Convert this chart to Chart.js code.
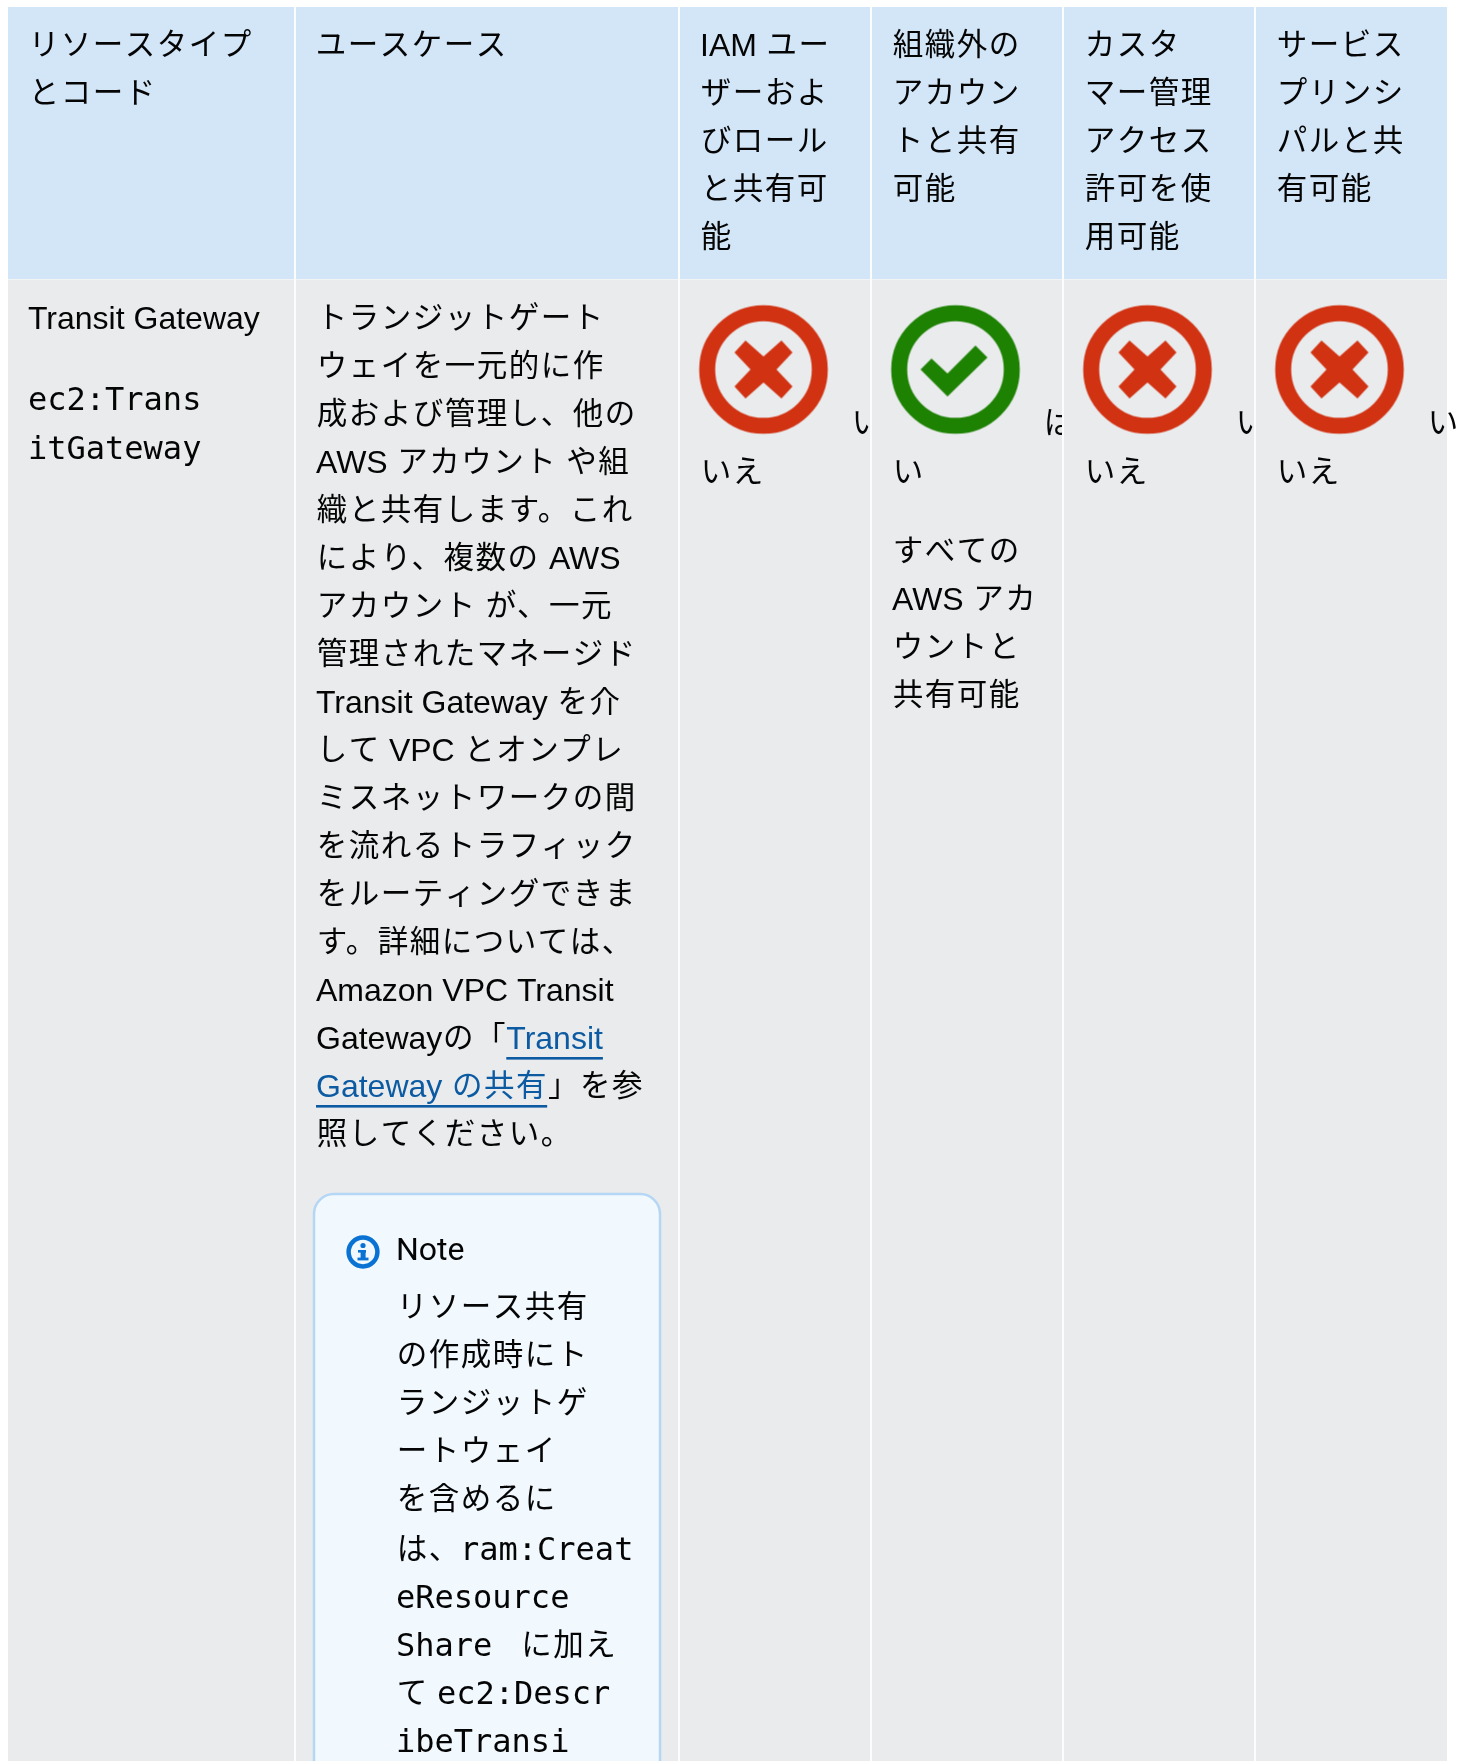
<!DOCTYPE html>
<html lang="ja">
<head>
<meta charset="utf-8">
<title>リソースタイプとコード</title>
<style>html,body{margin:0;padding:0;background:#fff}canvas{display:block}</style>
<script src="https://cdn.jsdelivr.net/npm/chart.js@4"></script>
</head>
<body>
<canvas id="c" width="1466" height="1761"></canvas>
<script>
// ---- content ----
const headers = [
  ["リソースタイプ", "とコード"],
  ["ユースケース"],
  ["IAM ユー", "ザーおよ", "びロール", "と共有可", "能"],
  ["組織外の", "アカウン", "トと共有", "可能"],
  ["カスタ", "マー管理", "アクセス", "許可を使", "用可能"],
  ["サービス", "プリンシ", "パルと共", "有可能"]
];
const resourceName = "Transit Gateway";
const resourceCode = ["ec2:Trans", "itGateway"];
// runs: plain strings are body text; {m:...} is code, {a:...} is a link
const useCase = [
  ["トランジットゲート"], ["ウェイを一元的に作"], ["成および管理し、他の"],
  ["AWS アカウント や組"], ["織と共有します。これ"], ["により、複数の AWS"],
  ["アカウント が、一元"], ["管理されたマネージド"], ["Transit Gateway を介"],
  ["して VPC とオンプレ"], ["ミスネットワークの間"], ["を流れるトラフィック"],
  ["をルーティングできま"], ["す。詳細については、"], ["Amazon VPC Transit"],
  ["Gatewayの「", {a:"Transit"}], [{a:"Gateway の共有"}, "」を参"], ["照してください。"]
];
const noteTitle = "Note";
const noteBody = [
  ["リソース共有"], ["の作成時にト"], ["ランジットゲ"], ["ートウェイ"], ["を含めるに"],
  ["は、", {m:"ram:Creat"}], [{m:"eResource"}], [{m:"Share "}, " に加え"],
  ["て ", {m:"ec2:Descr"}], [{m:"ibeTransi"}]
];
const availability = [false, true, false, false];      // columns 3..6
const noLabel = ["い", "いえ"];
const yesLabel = ["は", "い"];
const extraNote = ["すべての", "AWS アカ", "ウントと", "共有可能"];

// ---- layout ----
const W = 1466, H = 1761;
const colEdges = [8, 295, 679, 871, 1063, 1255, 1447];
const headTop = 7, headBottom = 279, PAD = 20, LH = 48;
const SANS = '32px "Liberation Sans","Noto Sans CJK JP",sans-serif';
const MONO = '32px "DejaVu Sans Mono","Noto Sans CJK JP",monospace';
const NOTE = '32px Roboto,"Noto Sans CJK JP",sans-serif';
const CJK = '30.5px "Noto Sans CJK JP",sans-serif', CJK_TRACK = 1.5, CJK_ADV = 32, CJK_RAISE = 1;
const CJK_RE = /([\u3000-\u30ff\u3400-\u9fff\uff00-\uffef]+)/;
const INK = '#050505', LINK = '#0b5aa2';
const statusCols = availability.map((_, i) => i + 2);

function icon(ok) {
  const c = document.createElement('canvas'); c.width = c.height = 134;
  const g = c.getContext('2d'), col = ok ? '#1d8102' : '#d13212', m = 67;
  g.filter = 'blur(0.5px)';
  g.strokeStyle = col; g.lineWidth = 16;
  g.beginPath(); g.arc(m, m, 56.3, 0, 7); g.stroke();
  g.fillStyle = col;
  const shape = ok
    ? [[-35,0],[-24,-11],[-8,4],[20,-24],[32,-12],[-8,27]]
    : [[-18,-29],[-29,-17],[-13,0],[-29,17],[-18,29],[0,13],[18,29],[29,17],[13,0],[29,-17],[18,-29],[0,-13]];
  g.beginPath();
  shape.forEach(([x, y], i) => i ? g.lineTo(m + x, m + y) : g.moveTo(m + x, m + y));
  g.closePath(); g.fill();
  return c;
}
function infoIcon() {
  const c = document.createElement('canvas'); c.width = c.height = 36;
  const g = c.getContext('2d'), m = 18;
  g.strokeStyle = g.fillStyle = '#0972d3'; g.lineWidth = 4.5;
  g.beginPath(); g.arc(m, m, 14.4, 0, 7); g.stroke();
  g.beginPath(); g.arc(m, m - 6.5, 2.6, 0, 7); g.fill();
  g.fillRect(m - 5, m - 2, 8, 2.6);
  g.fillRect(m - 2.4, m - 2, 5, 9);
  g.fillRect(m - 5.5, m + 5.6, 11, 2.8);
  return c;
}

const tablePlugin = {
  id: 'table',
  beforeDatasetsDraw(chart) {
    const { ctx, scales: { x, y } } = chart;
    const X = v => x.getPixelForValue(v), Y = v => y.getPixelForValue(v);
    const rect = (a, t, b, u, col) => { ctx.fillStyle = col; ctx.fillRect(X(a), Y(t), X(b) - X(a), Y(u) - Y(t)); };
    const runs = (line, left, base) => {
      let pen = X(left);
      line.forEach(r => {
        const isM = typeof r === 'object' && r.m !== undefined;
        const isA = typeof r === 'object' && r.a !== undefined;
        const t = isM ? r.m : isA ? r.a : r;
        const start = pen;
        ctx.fillStyle = isA ? LINK : INK;
        t.split(CJK_RE).forEach((seg, odd) => {
          if (!seg) return;
          if (odd % 2) {
            ctx.font = CJK; ctx.letterSpacing = CJK_TRACK + 'px';
            ctx.fillText(seg, pen + CJK_TRACK / 2, Y(base) - CJK_RAISE);
            ctx.letterSpacing = '0px';
            pen += seg.length * CJK_ADV;
          } else {
            ctx.font = isM ? MONO : SANS;
            ctx.fillText(seg, pen, Y(base));
            pen += ctx.measureText(seg).width;
          }
        });
        if (isA) ctx.fillRect(start, Y(base) + 8, pen - start, 2.6);
      });
    };
    ctx.save();
    ctx.textBaseline = 'alphabetic';
    colEdges.slice(0, -1).forEach((l, i) => {
      const r = colEdges[i + 1], last = i === 5;
      const cellL = i ? l + 1 : l, cellR = last ? r : r - 1;
      rect(cellL, headTop, cellR, headBottom, '#d3e6f8');
      rect(cellL, headBottom + 1, cellR, H, '#e9ebed');
      rect(cellL, headBottom, cellR, headBottom + 1, '#f2f3f4');
      if (!last) rect(r - 1, headTop, r + 1, H, '#fbfcfc');
      headers[i].forEach((t, k) => runs([t], l + PAD + (i < 2 ? 0 : 1), 56 + k * LH));
    });
    // first column
    runs([resourceName], colEdges[0] + PAD, 329);
    resourceCode.forEach((t, k) => runs([{ m: t }], colEdges[0] + PAD, 410 + k * (LH + 1)));
    // use case
    useCase.forEach((line, k) => runs(line, colEdges[1] + PAD + 1, 329 + k * LH));
    // status labels: first glyph wraps beside the icon and is cut by the cell edge
    statusCols.forEach((c, i) => {
      const l = colEdges[c], r = colEdges[c + 1], lab = availability[i] ? yesLabel : noLabel;
      ctx.save();
      if (c < 5) { ctx.beginPath(); ctx.rect(X(l), 0, X(r - 1) - X(l), H); ctx.clip(); }
      runs([lab[0]], l + 172, 433.5);
      ctx.restore();
      runs([lab[1]], l + PAD + 1, 482.5);
    });
    extraNote.forEach((t, k) => runs([t], colEdges[3] + PAD + 1, 562 + k * LH));
    // note box
    ctx.beginPath();
    ctx.roundRect(X(314), Y(1194), X(660) - X(314), Y(1800) - Y(1194), 20);
    ctx.fillStyle = '#f1f9ff'; ctx.fill();
    ctx.strokeStyle = '#b5d6f4'; ctx.lineWidth = 2.5; ctx.stroke();
    ctx.font = NOTE; ctx.fillStyle = INK;
    ctx.fillText(noteTitle, X(396), Y(1260));
    noteBody.forEach((line, k) => runs(line, 396, (k < 5 ? 1318 : 1320) + k * LH));
    ctx.restore();
  }
};

new Chart(document.getElementById('c'), {
  type: 'scatter',
  plugins: [tablePlugin],
  data: { datasets: [
    { label: 'いいえ',
      data: statusCols.filter((_, i) => !availability[i]).map(c => ({ x: colEdges[c] + 84.5, y: 369.5 })),
      pointStyle: icon(false) },
    { label: 'はい',
      data: statusCols.filter((_, i) => availability[i]).map(c => ({ x: colEdges[c] + 84.5, y: 369.5 })),
      pointStyle: icon(true) },
    { label: 'Note', data: [{ x: 363, y: 1252 }], pointStyle: infoIcon() }
  ] },
  options: {
    responsive: false, animation: false, devicePixelRatio: 1,
    layout: { padding: 0, autoPadding: false },
    plugins: { legend: { display: false }, tooltip: { enabled: false } },
    scales: {
      x: { type: 'linear', min: 0, max: W, display: false },
      y: { type: 'linear', min: 0, max: H, reverse: true, display: false }
    }
  }
});
</script>
</body>
</html>
